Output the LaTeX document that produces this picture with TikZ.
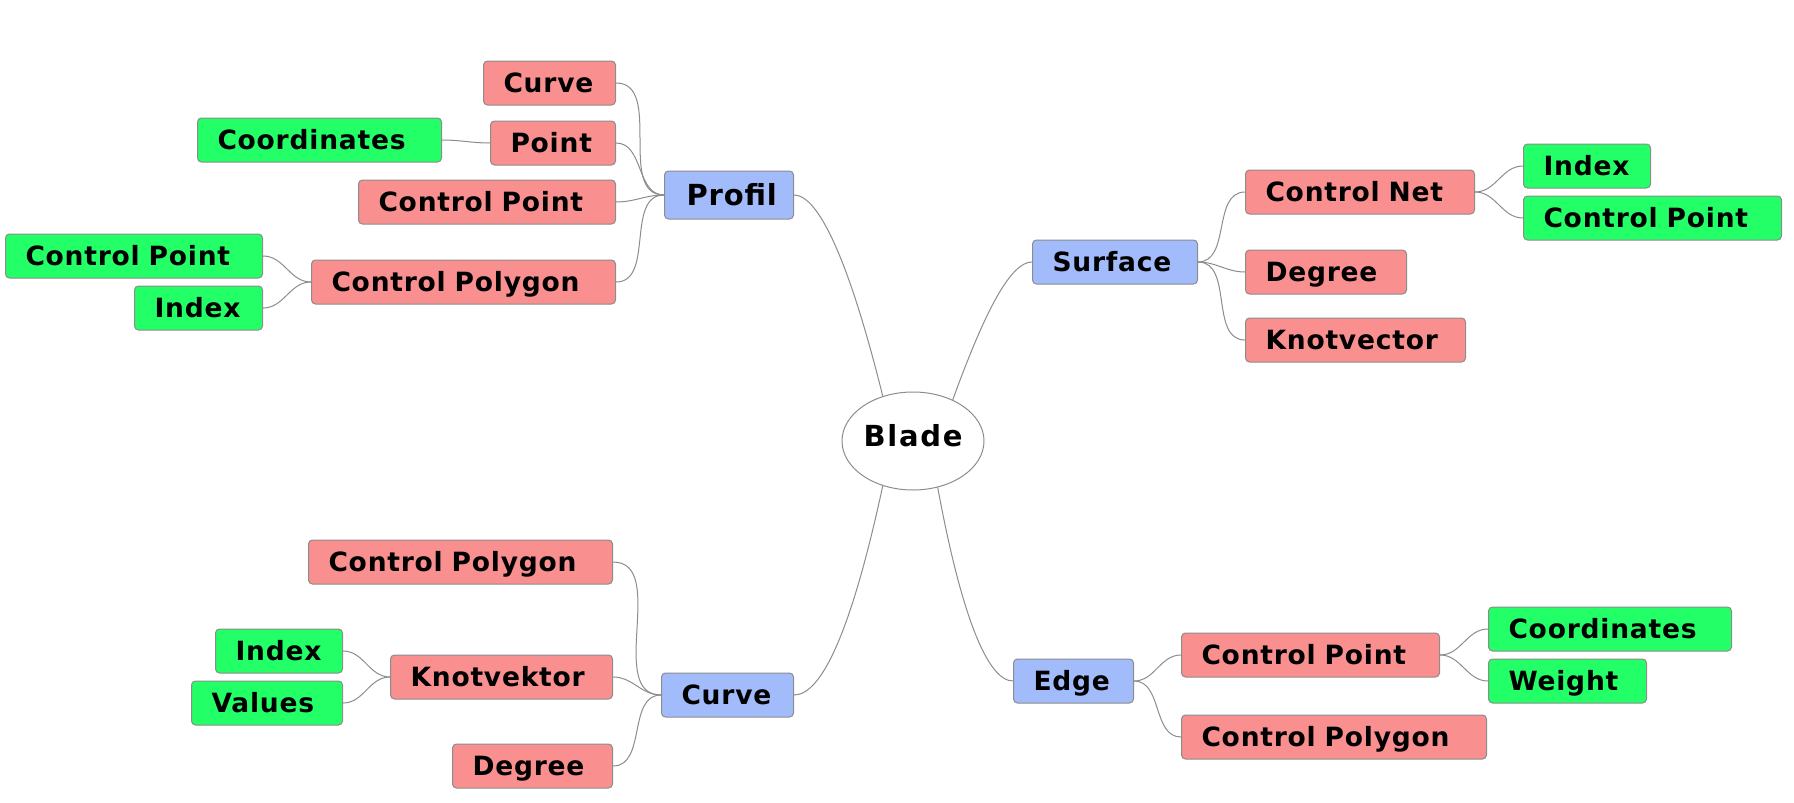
\documentclass[tikz,border=0pt]{standalone}
\usepackage{fontspec}
\setmainfont{DejaVu Sans}
\newfontfamily\boxfont[LetterSpace=3]{DejaVu Sans}
\newfontfamily\rootfont[LetterSpace=6]{DejaVu Sans}
\usepackage{tikz}
\usetikzlibrary{shapes}
\definecolor{mainblue}{HTML}{A2BBFB}
\definecolor{subred}{HTML}{F98F8F}
\definecolor{leafgreen}{HTML}{23FF67}
\definecolor{linegray}{HTML}{8C8C8C}

\begin{document}
\begin{tikzpicture} [
                x=1pt, y=-1pt,
                box/.style = {rectangle, rounded corners=4pt, draw=linegray, line width=1pt, anchor=west,
                    minimum height=44pt, inner xsep=20pt, inner ysep=0pt, align=left,
                    text height=19pt, text depth=0pt, font=\boxfont\fontsize{26.5}{30}\selectfont\bfseries},
                main/.style = {box, fill=mainblue},
                sub/.style = {box, fill=subred},
                leaf/.style = {box, fill=leafgreen},
                topic/.style = {ellipse, draw=linegray, line width=1pt, fill=white, minimum width=142pt,
                    minimum height=98pt, inner sep=0pt, text height=20pt, text depth=10pt,
                    font=\rootfont\fontsize{29}{32}\selectfont\bfseries},
                edge/.style = {draw, linegray, line width=1pt}
            ]
        \useasboundingbox (0,0) rectangle (1794,803);
        % First we draw the root and the main topics
            \node[topic] (blade) at (913,441) {Blade};
            \node[main, minimum height=48pt, inner xsep=22pt, text width=85pt, text height=21pt,
                font=\boxfont\fontsize{29}{32}\selectfont\bfseries] (profil) at (664,195) {Profil};
            \foreach \x/\y/\w/\name/\txt in {
                1032/262/165/surface/Surface,
                661/695/132/curve/Curve,
            1013/681/120/edge/Edge}
            \node[main, text width=\w pt-40pt] (\name) at (\x,\y) {\txt};
        % Subtopics
            \foreach \x/\y/\w/\name/\txt in {
                483/83/132/pCurve/Curve,
                490/143/125/pPoint/Point,
                358/202/257/pCtrlPt/Control Point,
                311/282/304/pCtrlPoly/Control Polygon,
                1245/192/229/sCtrlNet/Control Net,
                1245/272/161/sDegree/Degree,
                1245/340/220/sKnot/Knotvector,
                308/562/304/cCtrlPoly/Control Polygon,
                390/677/222/cKnot/Knotvektor,
                452/766/160/cDegree/Degree,
                1181/655/258/eCtrlPt/Control Point,
            1181/737/305/eCtrlPoly/Control Polygon}
            \node[sub, text width=\w pt-40pt] (\name) at (\x,\y) {\txt};
        % Leaves
            \foreach \x/\y/\w/\name/\txt in {
                197/140/244/ppCoord/Coordinates,
                5/256/257/pcCtrlPt/Control Point,
                134/308/128/pcIndex/Index,
                1523/166/127/snIndex/Index,
                1523/218/258/snCtrlPt/Control Point,
                215/651/127/ckIndex/Index,
                191/703/151/ckValues/Values,
                1488/629/243/ecCoord/Coordinates,
            1488/681/158/ecWeight/Weight}
            \node[leaf, text width=\w pt-40pt] (\name) at (\x,\y) {\txt};
        % Connect the main topics with the root
            \path[edge] (profil.east) .. controls +(25,0) and +(-33,-133) .. (blade.124);
            \path[edge] (blade.46) .. controls +(33,-91) and +(-21,0) .. (surface.west);
            \path[edge] (curve.east) .. controls +(29,0) and +(-30,139) .. (blade.236);
            \path[edge] (blade.298) .. controls +(24,130) and +(-25,0) .. (edge.west);
        % Branches to the left
            \foreach \source/ \dest in {
                profil/pCurve, profil/pPoint, profil/pCtrlPt, profil/pCtrlPoly,
                pPoint/ppCoord, pCtrlPoly/pcCtrlPt, pCtrlPoly/pcIndex,
                curve/cCtrlPoly, curve/cKnot, curve/cDegree,
            cKnot/ckIndex, cKnot/ckValues}
            \path[edge] (\source.west) to[out=180, in=0] (\dest.east);
        % Branches to the right
            \foreach \source/ \dest in {
                surface/sCtrlNet, surface/sDegree, surface/sKnot,
                sCtrlNet/snIndex, sCtrlNet/snCtrlPt,
                edge/eCtrlPt, edge/eCtrlPoly,
            eCtrlPt/ecCoord, eCtrlPt/ecWeight}
            \path[edge] (\source.east) to[out=0, in=180] (\dest.west);
        \end{tikzpicture}
\end{document}
